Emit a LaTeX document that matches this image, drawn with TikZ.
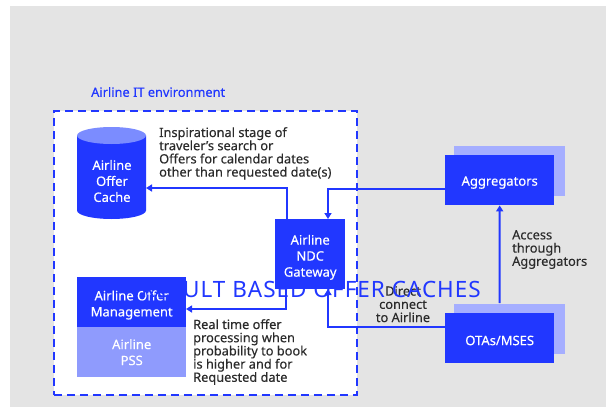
\documentclass[tikz,border=0pt]{standalone}
\usepackage{fontspec}
\setmainfont[FakeBold=0.25]{Noto Sans}
\newfontfamily\titlefont[LetterSpace=4.5]{Noto Sans}
\usetikzlibrary{shapes.geometric,arrows.meta,positioning}
\definecolor{brandblue}{HTML}{2137FF}
\definecolor{midblue}{HTML}{8F9BFD}
\definecolor{topblue}{HTML}{7B8CFF}
\definecolor{shadowblue}{HTML}{A5AEFF}
\definecolor{pagegray}{HTML}{E4E4E4}
\definecolor{inktext}{HTML}{2B2B2B}
\tikzset{
 x=1pt,y=-1pt,
 bluebox/.style={fill=brandblue,text=white,inner sep=0pt,align=center,font=\fontsize{13}{16}\selectfont},
 shadowbox/.style={fill=shadowblue,draw=none,inner sep=0pt},
 conn/.style={draw=brandblue,line width=2pt,-{Stealth[length=6pt,width=7pt,inset=0pt]}},
 note/.style={text=inktext,inner sep=0pt,align=left,anchor=north west,font=\fontsize{12.8}{13.2}\selectfont},
}
\newcommand{\boxat}[6]{\node[#1,minimum width=#4pt,minimum height=#5pt,anchor=north west] (#2) at #3 {#6};}
\newcommand{\dn}[1]{\rule{0pt}{#1pt}}
\begin{document}
\begin{tikzpicture}
\useasboundingbox (0,0) rectangle (611,407);
\fill[white] (0,0) rectangle (611,407);
\fill[pagegray] (10,6) rectangle (606,407);
\node[draw=brandblue,fill=white,dash pattern=on 8pt off 5pt,line width=1.5pt,minimum width=303pt,minimum height=284pt,anchor=north west,inner sep=0pt] (env) at (53,110) {};
\node[text=brandblue,inner sep=0pt,anchor=west,font=\fontsize{12.8}{14}\selectfont] (envlabel) at (91,92) {Airline IT environment};
% cache
\fill[brandblue] (77,135.5) -- (77,210.5) arc[start angle=180,end angle=360,x radius=34.5pt,y radius=8.5pt] -- (146,135.5) -- cycle;
\fill[topblue] (111.5,135.5) ellipse[x radius=34.5pt,y radius=8.5pt];
\node[text=white,inner sep=0pt,align=center,font=\fontsize{13}{16}\selectfont] (cache) at (112,181) {Airline\\Offer\\Cache};
% boxes
\boxat{bluebox}{gateway}{(275,219)}{70}{70}{\dn{16}Airline\\NDC\\Gateway}
\boxat{bluebox}{offer}{(77,277)}{109}{50}{\dn{15.5}Airline Offer\\Management}
\node[fill=midblue,text=white,inner sep=0pt,align=center,font=\fontsize{13}{16}\selectfont,minimum width=109pt,minimum height=50pt,anchor=north west] (pss) at (77,327) {Airline\\PSS};
\boxat{shadowbox}{aggshadow}{(454,146)}{111}{50}{}
\boxat{bluebox}{agg}{(445,155)}{109}{50}{\dn{14}Aggregators}
\boxat{shadowbox}{otashadow}{(454,304)}{111}{50}{}
\boxat{bluebox}{ota}{(445,313)}{109}{50}{\dn{14}OTAs/MSES}
% connector ends
\coordinate (gwtopa) at (287,219);
\coordinate (gwtopb) at (328,219);
\coordinate (gwbota) at (286,289);
\coordinate (gwbotb) at (328,289);
\coordinate (cachein) at (146,188);
\coordinate (offerin) at (186,309);
\coordinate (aggout) at (445,189);
\coordinate (otaout) at (445,327);
\coordinate (otatop) at (499.5,303);
\draw[conn] (gwtopa) |- (cachein);
\draw[conn] (gwbota) |- (offerin);
\draw[conn] (aggout) -| (gwtopb);
\draw[conn] (otaout) -| (gwbotb);
\draw[conn] (otatop) -- (agg.south);
% notes
\node[note] (n1) at (159,127) {Inspirational stage of\\traveler's search or\\Offers for calendar dates\\other than requested date(s)};
\node[note] (n2) at (193,319) {Real time offer\\processing when\\probability to book\\is higher and for\\Requested date};
\node[note] (n3) at (512,230) {Access\\through\\Aggregators};
\node[note,align=center,anchor=north] (n4) at (403,286) {Direct\\connect\\to Airline};
% title on top
\node[text=brandblue,inner sep=0pt,anchor=east,font=\titlefont\fontsize{22.5}{26}\selectfont] (title) at (481,289.5) {RESULT BASED OFFER CACHES};
\end{tikzpicture}
\end{document}
